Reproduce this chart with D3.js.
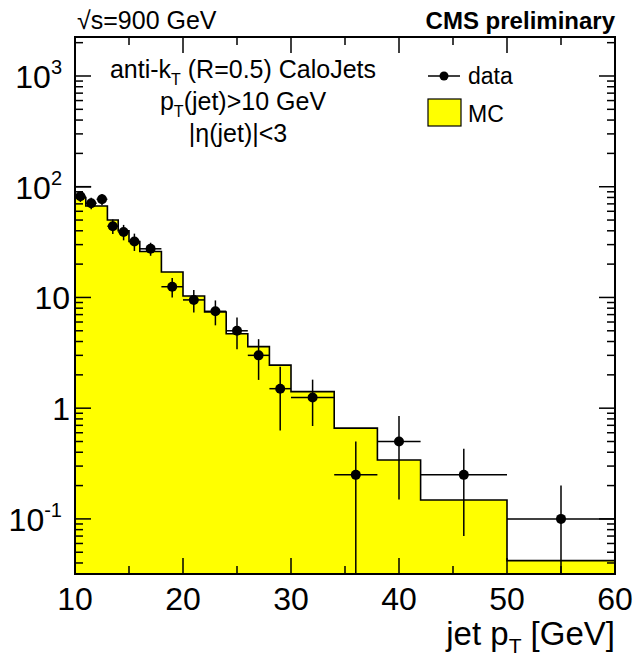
<!DOCTYPE html>
<html><head><meta charset="utf-8">
<script src="https://cdn.jsdelivr.net/npm/d3@7"></script>
<style>
body{margin:0;background:#fff}
svg{display:block}
text{font-family:"Liberation Sans",Arial,Helvetica,sans-serif;fill:#000}
</style>
</head><body>
<svg id="c" width="635" height="658"></svg>
<script>
// ---- data ----
const binEdges = [10,11,12,13,14,15,16,18,20,22,24,26,28,30,34,38,42,50,60];
const dataX    = [10.5,11.5,12.5,13.5,14.5,15.5,17,19,21,23,25,27,29,32,36,40,46,55];
const dataY    = [82,71,77,44,39,32,27.5,12.5,9.5,7.5,5,3,1.5,1.25,0.25,0.5,0.25,0.1];
const dataErr  = [9.1,8.4,8.8,6.6,6.2,5.7,3.7,2.5,2.2,1.9,1.6,1.2,0.87,0.56,0.25,0.35,0.18,0.1];
const mcY      = [80,67,67,50,40,32,26,17,10.3,7.4,4.7,3.6,2.45,1.41,0.66,0.34,0.148,0.042];
const mcExtraSeg = [10, 11.5, 100];   // stray MC outline segment [x0, x1, y]

const xTickValues = [10,20,30,40,50,60];
const xTickLabels = ["10","20","30","40","50","60"];
const xMinorTicks = [15,25,35,45,55];
const yTickValues = [1000,100,10,1,0.1];
const yLabelBase  = ["10","10","10","1","10"];
const yLabelExp   = ["3","2","","","-1"];

const xDomain = [10,60];
const yDomain = [0.0318,2250];

// ---- layout ----
const L=75, R=615, T=37, B=574;
const svg = d3.select("#c");
const x = d3.scaleLinear().domain(xDomain).range([L,R]);
const y = d3.scaleLog().domain(yDomain).range([B,T]);

// MC histogram
const steps = [];
mcY.forEach((v,i)=>{ steps.push([binEdges[i],v]); steps.push([binEdges[i+1],v]); });
svg.append("path").datum(steps)
  .attr("d", d3.area().x(d=>x(d[0])).y0(B).y1(d=>y(d[1])))
  .attr("fill","#ffff00").attr("stroke","none");
svg.append("path").datum(steps)
  .attr("d", d3.line().x(d=>x(d[0])).y(d=>y(d[1])))
  .attr("fill","none").attr("stroke","#000").attr("stroke-width",1.6);
svg.append("line")
  .attr("x1",x(mcExtraSeg[0])).attr("x2",x(mcExtraSeg[1]))
  .attr("y1",y(mcExtraSeg[2])).attr("y2",y(mcExtraSeg[2]))
  .attr("stroke","#000").attr("stroke-width",1.6);

// data
const g = svg.append("g");
dataX.forEach((xv,i)=>{
  const lo = dataY[i]-dataErr[i];
  const yl = lo>yDomain[0] ? y(lo) : B;
  const yh = y(dataY[i]+dataErr[i]);
  g.append("line").attr("x1",x(xv)).attr("x2",x(xv)).attr("y1",yh).attr("y2",yl)
    .attr("stroke","#000").attr("stroke-width",1.5);
  g.append("line").attr("x1",x(binEdges[i])).attr("x2",x(binEdges[i+1]))
    .attr("y1",y(dataY[i])).attr("y2",y(dataY[i]))
    .attr("stroke","#000").attr("stroke-width",1.5);
});
g.selectAll("circle").data(dataX).join("circle")
  .attr("cx",d=>x(d)).attr("cy",(d,i)=>y(dataY[i])).attr("r",5).attr("fill","#000");

// frame
svg.append("rect").attr("x",L).attr("y",T).attr("width",R-L).attr("height",B-T)
  .attr("fill","none").attr("stroke","#000").attr("stroke-width",2);

// ticks
const tk = svg.append("g").attr("stroke","#000").attr("stroke-width",1.5);
const majL=16, minL=8;
xTickValues.forEach(v=>{
  tk.append("line").attr("x1",x(v)).attr("x2",x(v)).attr("y1",B).attr("y2",B-majL);
  tk.append("line").attr("x1",x(v)).attr("x2",x(v)).attr("y1",T).attr("y2",T+majL);
});
xMinorTicks.forEach(v=>{
  tk.append("line").attr("x1",x(v)).attr("x2",x(v)).attr("y1",B).attr("y2",B-minL);
  tk.append("line").attr("x1",x(v)).attr("x2",x(v)).attr("y1",T).attr("y2",T+minL);
});
yTickValues.forEach(v=>{
  tk.append("line").attr("x1",L).attr("x2",L+majL).attr("y1",y(v)).attr("y2",y(v));
  tk.append("line").attr("x1",R).attr("x2",R-majL).attr("y1",y(v)).attr("y2",y(v));
});
for(let d=-2; d<=3; d++){
  for(let k=2;k<=9;k++){
    const v=k*Math.pow(10,d);
    if(v<yDomain[0]||v>yDomain[1]) continue;
    tk.append("line").attr("x1",L).attr("x2",L+minL).attr("y1",y(v)).attr("y2",y(v));
    tk.append("line").attr("x1",R).attr("x2",R-minL).attr("y1",y(v)).attr("y2",y(v));
  }
}

// tick labels
const labFs = 32;
xTickValues.forEach((v,i)=>{
  svg.append("text").attr("x",x(v)).attr("y",B+36).attr("text-anchor","middle")
    .attr("font-size",labFs).text(xTickLabels[i]);
});
yTickValues.forEach((v,i)=>{
  const t = svg.append("text").attr("y",y(v)+12).attr("font-size",labFs).attr("text-anchor","end");
  if(yLabelExp[i]){
    t.attr("x",62);
    t.append("tspan").text(yLabelBase[i]);
    t.append("tspan").attr("font-size",20).attr("dy",-14).text(yLabelExp[i]);
  } else {
    t.attr("x",70).text(yLabelBase[i]);
  }
});

// axis title
const xt = svg.append("text").attr("x",R).attr("y",645).attr("text-anchor","end").attr("font-size",33);
xt.append("tspan").text("jet p");
xt.append("tspan").attr("font-size",21).attr("dy",8).text("T");
xt.append("tspan").attr("dy",-8).text(" [GeV]");

// header texts
const hdr = svg.append("text").attr("x",77).attr("y",29).attr("font-size",25);
hdr.append("tspan").text("\u221As=900 GeV");
svg.append("text").attr("x",615).attr("y",29).attr("text-anchor","end")
  .attr("font-size",24).attr("font-weight","bold").text("CMS preliminary");

// info text
const cx = 243, fsI = 25;
const t1 = svg.append("text").attr("x",cx).attr("y",78).attr("text-anchor","middle").attr("font-size",fsI);
t1.append("tspan").text("anti-k");
t1.append("tspan").attr("font-size",16).attr("dy",7).text("T");
t1.append("tspan").attr("dy",-7).text(" (R=0.5) CaloJets");
const t2 = svg.append("text").attr("x",cx).attr("y",110).attr("text-anchor","middle").attr("font-size",fsI);
t2.append("tspan").text("p");
t2.append("tspan").attr("font-size",16).attr("dy",7).text("T");
t2.append("tspan").attr("dy",-7).text("(jet)>10 GeV");
svg.append("text").attr("x",cx-5).attr("y",142).attr("text-anchor","middle").attr("font-size",fsI)
  .text("|\u03B7(jet)|<3");

// legend
const lg = svg.append("g");
lg.append("line").attr("x1",428).attr("x2",460).attr("y1",76).attr("y2",76).attr("stroke","#000").attr("stroke-width",1.5);
lg.append("circle").attr("cx",444).attr("cy",76).attr("r",4.5).attr("fill","#000");
lg.append("text").attr("x",468).attr("y",84).attr("font-size",23).text("data");
lg.append("rect").attr("x",428).attr("y",99).attr("width",33).attr("height",27)
  .attr("fill","#ffff00").attr("stroke","#000").attr("stroke-width",1.2);
lg.append("text").attr("x",468).attr("y",122).attr("font-size",23).text("MC");
</script>
</body></html>
